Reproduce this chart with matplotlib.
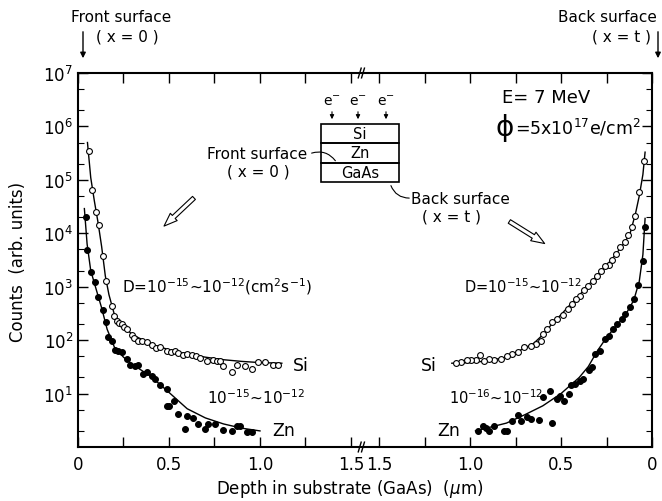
import numpy as np
import matplotlib.pyplot as plt
from matplotlib.patches import Rectangle

# ---- data (depth in um, counts in arb. units) ----
# front side (measured from front surface, x = 0)
front_si_depth = [0.060, 0.077, 0.097, 0.115, 0.136, 0.154, 0.185, 0.198, 0.214, 0.225,
                  0.242, 0.255, 0.269, 0.297, 0.310, 0.330, 0.350, 0.379, 0.407, 0.430,
                  0.450, 0.489, 0.510, 0.533, 0.550, 0.577, 0.600, 0.626, 0.650, 0.670,
                  0.709, 0.740, 0.764, 0.780, 0.797, 0.846, 0.874, 0.918, 0.956, 0.989,
                  1.027, 1.071, 1.099]
front_si_counts = [3.5e5, 6.5e4, 2.5e4, 1.45e4, 3.8e3, 1.3e3, 440, 280, 225, 210,
                   200, 178, 160, 125, 112, 95, 95, 93, 81, 71,
                   74, 63, 60, 63, 57, 52, 56, 52, 50, 47,
                   41, 42, 41, 40, 33, 25, 35, 33, 29, 39,
                   39, 35, 35]
front_si_fit_depth = [0.052, 0.07, 0.09, 0.11, 0.13, 0.15, 0.17, 0.20, 0.25, 0.30, 0.40,
                      0.50, 0.60, 0.70, 0.80, 0.90, 1.00, 1.12]
front_si_fit = [5.0e5, 1.1e5, 4.0e4, 1.6e4, 5.6e3, 1.6e3, 7.1e2, 3.0e2, 1.8e2, 1.26e2, 85,
                66, 55, 48, 43, 40, 38, 37]

front_zn_depth = [0.042, 0.048, 0.071, 0.092, 0.112, 0.136, 0.152, 0.166, 0.185, 0.203,
                  0.221, 0.240, 0.268, 0.286, 0.313, 0.331, 0.359, 0.381, 0.405, 0.423,
                  0.451, 0.487, 0.527, 0.487, 0.500, 0.551, 0.597, 0.588, 0.634, 0.661,
                  0.698, 0.716, 0.753, 0.798, 0.845, 0.872, 0.890, 0.927, 0.954]
front_zn_counts = [2.0e4, 4.9e3, 1.9e3, 1.2e3, 650, 370, 220, 115, 98, 66,
                   63, 60, 45, 35, 33, 35, 23, 25, 21, 19,
                   14.5, 12.3, 7.2, 5.9, 5.9, 4.2, 3.8, 2.2, 3.5, 2.7,
                   2.2, 2.7, 2.7, 2.1, 2.0, 2.45, 2.45, 1.9, 1.9]
front_zn_fit_depth = [0.035, 0.05, 0.07, 0.10, 0.13, 0.16, 0.20, 0.25, 0.30, 0.40, 0.50,
                      0.60, 0.70, 0.80, 0.90, 1.00]
front_zn_fit = [2.9e4, 6.3e3, 2.0e3, 890, 400, 160, 74, 48, 35, 21, 10.5,
                5.2, 3.5, 2.7, 2.25, 2.0]

# back side (measured from back surface, x = t)
back_si_depth = [0.044, 0.069, 0.091, 0.111, 0.130, 0.151, 0.175, 0.197, 0.220, 0.239,
                 0.257, 0.280, 0.302, 0.326, 0.351, 0.372, 0.393, 0.415, 0.439, 0.463,
                 0.488, 0.521, 0.548, 0.575, 0.597, 0.612, 0.639, 0.667, 0.703, 0.739,
                 0.767, 0.794, 0.831, 0.867, 0.895, 0.922, 0.944, 0.967, 0.995, 1.016,
                 1.049, 1.077]
back_si_counts = [2.3e5, 6.0e4, 2.1e4, 1.3e4, 9.1e3, 6.8e3, 5.5e3, 4.1e3, 3.2e3, 2.6e3,
                  2.4e3, 2.0e3, 1.6e3, 1.3e3, 1.05e3, 850, 680, 590, 480, 380,
                  290, 250, 220, 160, 130, 98, 85, 79, 74, 60,
                  55, 50, 45, 42, 45, 40, 52, 43, 42, 43,
                  39, 37]
back_si_fit_depth = [0.038, 0.05, 0.07, 0.09, 0.12, 0.15, 0.20, 0.25, 0.30, 0.35, 0.40,
                     0.45, 0.50, 0.55, 0.60, 0.65, 0.70, 0.80, 0.90, 1.00, 1.10]
back_si_fit = [3.3e5, 1.26e5, 5.0e4, 2.4e4, 1.0e4, 6.8e3, 4.0e3, 2.5e3, 1.66e3, 1.07e3, 690,
               460, 300, 200, 126, 87, 71, 48, 41, 38, 37]

back_zn_depth = [0.038, 0.051, 0.075, 0.098, 0.120, 0.148, 0.166, 0.193, 0.217, 0.239,
                 0.261, 0.288, 0.311, 0.330, 0.348, 0.379, 0.397, 0.421, 0.444, 0.457,
                 0.485, 0.508, 0.521, 0.561, 0.597, 0.548, 0.621, 0.663, 0.685, 0.721,
                 0.739, 0.767, 0.794, 0.813, 0.867, 0.895, 0.913, 0.931, 0.958]
back_zn_counts = [1.3e4, 3.0e3, 1.1e3, 590, 420, 310, 250, 200, 160, 120,
                  105, 63, 55, 31, 28, 19, 17, 15, 14.5, 9.8,
                  7.4, 9.1, 7.9, 11, 8.5, 2.8, 3.2, 3.3, 3.7, 3.1,
                  4.0, 3.1, 2.0, 2.0, 2.5, 2.0, 2.3, 2.5, 2.0]
back_zn_fit_depth = [0.038, 0.05, 0.07, 0.10, 0.15, 0.20, 0.25, 0.30, 0.35, 0.40, 0.50,
                     0.60, 0.70, 0.80, 0.90, 0.97]
back_zn_fit = [1.9e4, 4.0e3, 1.26e3, 560, 280, 180, 112, 63, 32, 20, 10,
               5.9, 4.0, 2.8, 2.3, 2.0]

x_ticks = [0, 0.5, 1.0, 1.5]
y_exps = [1, 2, 3, 4, 5, 6, 7]

# right half is mirrored: position = XR - depth
XR = 3.154
W, H = 662, 502


def P(px, py):
    return (px / W, 1 - py / H)


fig = plt.figure(figsize=(W / 100, H / 100), dpi=100)
ax = fig.add_axes([78 / W, 54 / H, 574 / W, 374 / H])
ax.set_yscale('log')
ax.set_xlim(0, XR)
ax.set_ylim(1, 1e7)

mk = dict(ms=4.2, mec='black', mew=0.8, ls='none')
ax.plot(front_si_fit_depth, front_si_fit, 'k-', lw=1)
ax.plot(front_si_depth, front_si_counts, 'o', mfc='white', **mk)
ax.plot(front_zn_fit_depth, front_zn_fit, 'k-', lw=1)
ax.plot(front_zn_depth, front_zn_counts, 'o', mfc='black', **mk)

ax.plot(XR - np.array(back_si_fit_depth), back_si_fit, 'k-', lw=1)
ax.plot(XR - np.array(back_si_depth), back_si_counts, 'o', mfc='white', **mk)
ax.plot(XR - np.array(back_zn_fit_depth), back_zn_fit, 'k-', lw=1)
ax.plot(XR - np.array(back_zn_depth), back_zn_counts, 'o', mfc='black', **mk)

# ticks
xt = [t for t in x_ticks] + [XR - t for t in x_ticks]
xl = ['0' if t == 0 else f'{t:.1f}' for t in x_ticks] * 2
ax.set_xticks(xt)
ax.set_xticklabels(xl)
minor_x = [0.25, 0.75, 1.25, XR - 0.25, XR - 0.75, XR - 1.25]
ax.set_xticks(minor_x, minor=True)
ax.set_yticks([10.0 ** e for e in y_exps])
ax.set_yticklabels([f'$10^{{{e}}}$' for e in y_exps])
ax.yaxis.set_minor_locator(plt.matplotlib.ticker.LogLocator(base=10, subs=(2, 5)))
ax.yaxis.set_minor_formatter(plt.NullFormatter())
ax.tick_params(which='both', direction='in', top=True, right=True, labelsize=12)
ax.tick_params(which='major', length=7, width=1)
ax.tick_params(which='minor', length=4, width=0.8)
ax.tick_params(axis='x', which='minor', length=7, width=1)
ax.tick_params(axis='x', pad=6)
for s in ax.spines.values():
    s.set_linewidth(1.5)

# axis break marks
tr = ax.get_xaxis_transform()
for yb in (0, 1):
    for xb in (1.548, 1.566):
        ax.plot([xb - 0.008, xb + 0.008], [yb - 0.013, yb + 0.013], 'k-', lw=1,
                transform=tr, clip_on=False)

fig.text(*P(18, 262), 'Counts  (arb. units)', rotation=90, ha='center', va='center',
         fontsize=12)
fig.text(*P(350, 489), r'Depth in substrate (GaAs)  ($\mu$m)', ha='center', va='center',
         fontsize=12)

# surface labels
fig.text(*P(121, 17), 'Front surface', ha='center', va='center', fontsize=11)
fig.text(*P(127, 37), '( x = 0 )', ha='center', va='center', fontsize=11)
fig.text(*P(607, 17), 'Back surface', ha='center', va='center', fontsize=11)
fig.text(*P(621, 37), '( x = t )', ha='center', va='center', fontsize=11)
arr = dict(arrowstyle='-|>', color='black', lw=1, mutation_scale=8)
ax.annotate('', xy=P(83, 62), xytext=P(83, 30), xycoords='figure fraction', arrowprops=arr)
ax.annotate('', xy=P(658, 62), xytext=P(658, 30), xycoords='figure fraction', arrowprops=arr)

# conditions
fig.text(*P(546, 98), 'E= 7 MeV', ha='center', va='center', fontsize=13)
fig.text(*P(495, 128), '\u03d5', ha='left', va='center', fontsize=20)
fig.text(*P(515, 128), r'=5x10$^{17}$e/cm$^2$', ha='left', va='center', fontsize=12.5)

# inset sample sketch
rows = [(125, 144, 'Si'), (144, 164, 'Zn'), (164, 183, 'GaAs')]
for top, bot, lab in rows:
    x0, y0 = P(321, bot)
    fig.add_artist(Rectangle((x0, y0), 78 / W, (bot - top) / H, fill=False,
                             lw=1.2, ec='black', transform=fig.transFigure))
    fig.text(*P(360, (top + bot) / 2), lab, ha='center', va='center', fontsize=10.5)
ea = dict(arrowstyle='-|>', color='black', lw=0.8, mutation_scale=6)
for ex in (332, 358, 386):
    fig.text(*P(ex, 102), r'e$^{-}$', ha='center', va='center', fontsize=10)
    ax.annotate('', xy=P(ex, 123), xytext=P(ex, 110), xycoords='figure fraction',
                arrowprops=ea)

fig.text(*P(257, 155), 'Front surface', ha='center', va='center', fontsize=11)
fig.text(*P(258, 172), '( x = 0 )', ha='center', va='center', fontsize=11)
ax.annotate('', xy=P(337, 164), xytext=P(309, 155), xycoords='figure fraction',
            arrowprops=dict(arrowstyle='-', lw=0.8, connectionstyle='arc3,rad=-0.4'))
fig.text(*P(460, 200), 'Back surface', ha='center', va='center', fontsize=11)
fig.text(*P(452, 217), '( x = t )', ha='center', va='center', fontsize=11)
ax.annotate('', xy=P(390, 184), xytext=P(412, 199), xycoords='figure fraction',
            arrowprops=dict(arrowstyle='-', lw=0.8, connectionstyle='arc3,rad=-0.4'))

# hollow arrows
ha_style = dict(arrowstyle='simple,head_length=0.8,head_width=0.6,tail_width=0.25',
                fc='white', ec='black', lw=0.8, mutation_scale=12)
ax.annotate('', xy=P(162, 229), xytext=P(196, 197), xycoords='figure fraction',
            arrowprops=ha_style)
ax.annotate('', xy=P(547, 246), xytext=P(507, 221), xycoords='figure fraction',
            arrowprops=ha_style)

# diffusion coefficient labels
fs = 11
fig.text(*P(122, 287), r'D=10$^{-15}$~10$^{-12}$(cm$^2$s$^{-1}$)', ha='left', va='center',
         fontsize=fs)
fig.text(*P(464, 287), r'D=10$^{-15}$~10$^{-12}$', ha='left', va='center', fontsize=10.5)
fig.text(*P(207, 398), r'10$^{-15}$~10$^{-12}$', ha='left', va='center', fontsize=fs)
fig.text(*P(449, 398), r'10$^{-16}$~10$^{-12}$', ha='left', va='center', fontsize=10.5)
fig.text(*P(293, 366), 'Si', ha='left', va='center', fontsize=12.5)
fig.text(*P(272, 431), 'Zn', ha='left', va='center', fontsize=12.5)
fig.text(*P(437, 366), 'Si', ha='right', va='center', fontsize=12.5)
fig.text(*P(460, 431), 'Zn', ha='right', va='center', fontsize=12.5)

fig.savefig('out.png', dpi=100)
plt.close(fig)
